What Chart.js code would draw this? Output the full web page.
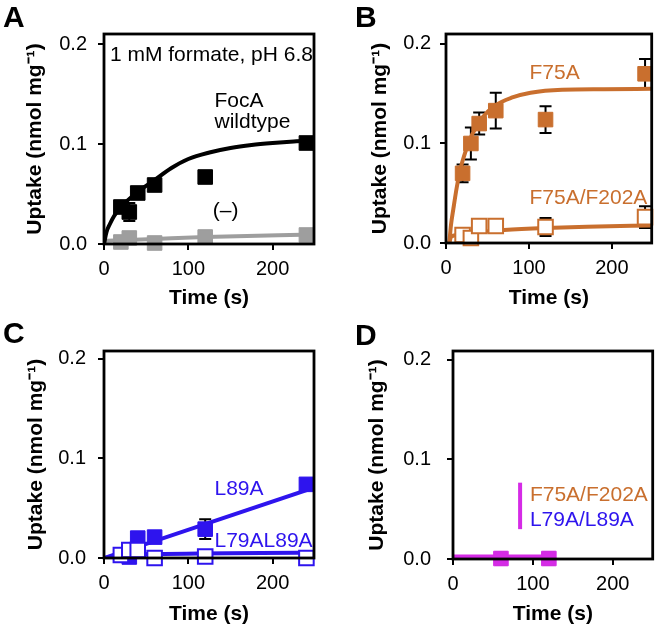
<!DOCTYPE html>
<html>
<head>
<meta charset="utf-8">
<script src="https://cdn.jsdelivr.net/npm/chart.js@4.4.1/dist/chart.umd.min.js"></script>
<style>
  body { margin: 0; background: #fff; }
  #wrap { position: relative; width: 664px; height: 629px; }
  #wrap canvas { position: absolute; }
</style>
</head>
<body>
<div id="wrap">
  <canvas id="panelA" width="332" height="310" style="left:0;top:0"></canvas>
  <canvas id="panelB" width="332" height="310" style="left:332px;top:0"></canvas>
  <canvas id="panelC" width="332" height="319" style="left:0;top:310px"></canvas>
  <canvas id="panelD" width="332" height="319" style="left:332px;top:310px"></canvas>
</div>
<script>
// ---- data ----
const sampleTimes = [20, 30, 40, 60, 120, 240];
const timeTicks = [0, 100, 200];
const uptakeTicks = [0, 0.1, 0.2];

// A: FocA wildtype and (-) control
const wildtypeUptake = [0.037, 0.032, 0.051, 0.059, 0.067, 0.101];
const wildtypeError = [0.004, 0.009, 0.005, 0.005, 0.006, 0.004];
const wildtypeFitTime = [0, 3, 7, 12, 20, 40, 60, 80, 100, 125, 150, 175, 200, 225, 250];
const wildtypeFitUptake = [0, 0.012, 0.020, 0.028, 0.037, 0.052, 0.064, 0.076, 0.085, 0.0915, 0.096, 0.099, 0.101, 0.1025, 0.1035];
const controlTime = [20, 30, 60, 120, 240];
const controlUptake = [0.002, 0.006, 0.001, 0.007, 0.009];
const controlError = [0.002, 0.004, 0.002, 0.003, 0.003];
const controlFitTime = [0, 60, 120, 250];
const controlFitUptake = [0.003, 0.005, 0.007, 0.0095];

// B: F75A and F75A/F202A
const f75aUptake = [0.070, 0.100, 0.120, 0.133, 0.124, 0.170];
const f75aError = [0.009, 0.016, 0.011, 0.018, 0.0135, 0.015];
const f75aFitTime = [4, 6, 9, 13, 17, 24, 32, 44, 59, 79, 102, 140, 190, 250];
const f75aFitUptake = [0, 0.018, 0.035, 0.056, 0.073, 0.093, 0.110, 0.126, 0.138, 0.146, 0.151, 0.154, 0.1545, 0.155];
const f202aUptake = [0.008, 0.005, 0.017, 0.017, 0.016, 0.026];
const f202aError = [0.003, 0.002, 0.003, 0.003, 0.009, 0.011];
const f202aFitTime = [4, 6, 12, 24, 40, 70, 120, 170, 250];
const f202aFitUptake = [0, 0.006, 0.008, 0.009, 0.011, 0.013, 0.015, 0.0163, 0.0177];

// C: L89A and L79A/L89A
const l89aTime = [30, 40, 60, 120, 240];
const l89aUptake = [0.001, 0.020, 0.021, 0.029, 0.074];
const l89aError = [0.002, 0.003, 0.003, 0.010, 0.004];
const l89aFitTime = [0, 250];
const l89aFitUptake = [0, 0.071];
const l79aUptake = [0.003, 0.008, 0.008, 0.0, 0.0015, 0.0];
const l79aError = [0.002, 0.002, 0.002, 0.002, 0.002, 0.002];
const l79aFitTime = [0, 20, 40, 60, 250];
const l79aFitUptake = [0, 0.002, 0.0035, 0.004, 0.0055];

// D: triple mutant
const tripleTime = [60, 120];
const tripleUptake = [0.0005, 0.0005];
const tripleError = [0.006, 0.006];
const tripleFitTime = [0, 125];
const tripleFitUptake = [0.0024, 0.0024];

// ---- styling ----
const ORANGE = '#C96F2E';
const BLUE = '#2E14EE';
const MAGENTA = '#D52BE6';
const GRAY = '#9E9E9E';
const FONT = '"Liberation Sans", Arial, Helvetica, sans-serif';

function pts(xs, ys) {
  return xs.map((x, i) => ({ x: x, y: ys[i] }));
}

function markers(xs, ys, errs, color, open) {
  return {
    data: pts(xs, ys),
    errors: errs,
    showLine: false,
    pointStyle: 'rect',
    pointRadius: 10.3,
    pointBorderWidth: open ? 2 : 1,
    pointBorderColor: color,
    pointBackgroundColor: open ? '#fff' : color,
    clip: false
  };
}

function fitLine(xs, ys, color) {
  return {
    data: pts(xs, ys),
    showLine: true,
    borderColor: color,
    borderWidth: 4,
    pointRadius: 0,
    cubicInterpolationMode: 'monotone',
    fill: false
  };
}

function decoPlugin(p) {
  return {
    id: 'deco',
    beforeDatasetsDraw(chart) {
      const ctx = chart.ctx, xs = chart.scales.x, ys = chart.scales.y;
      ctx.save();
      ctx.strokeStyle = '#000';
      ctx.lineWidth = 2;
      chart.data.datasets.forEach(ds => {
        if (!ds.errors) return;
        ds.data.forEach((d, j) => {
          const e = ds.errors[j];
          const x = xs.getPixelForValue(d.x);
          const y1 = ys.getPixelForValue(d.y + e);
          const y2 = ys.getPixelForValue(d.y - e);
          ctx.beginPath();
          ctx.moveTo(x, y1); ctx.lineTo(x, y2);
          ctx.moveTo(x - 6, y1); ctx.lineTo(x + 6, y1);
          ctx.moveTo(x - 6, y2); ctx.lineTo(x + 6, y2);
          ctx.stroke();
        });
      });
      ctx.restore();
    },
    afterDatasetsDraw(chart) {
      const ctx = chart.ctx, a = chart.chartArea, xs = chart.scales.x, ys = chart.scales.y;
      ctx.save();
      ctx.strokeStyle = '#000';
      ctx.lineWidth = 2.8;
      ctx.strokeRect(a.left, a.top, a.right - a.left, a.bottom - a.top);
      ctx.font = '21px ' + FONT;
      ctx.textBaseline = 'middle';
      ctx.textAlign = 'left';
      (p.texts || []).forEach(t => {
        ctx.fillStyle = t.color;
        ctx.fillText(t.text, xs.getPixelForValue(t.x), ys.getPixelForValue(t.y));
      });
      if (p.bar) {
        ctx.strokeStyle = p.bar.color;
        ctx.lineWidth = 4;
        const bx = xs.getPixelForValue(p.bar.x);
        ctx.beginPath();
        ctx.moveTo(bx, ys.getPixelForValue(p.bar.y1));
        ctx.lineTo(bx, ys.getPixelForValue(p.bar.y2));
        ctx.stroke();
      }
      ctx.restore();
    },
    afterDraw(chart) {
      const ctx = chart.ctx;
      ctx.save();
      ctx.font = 'bold 30px ' + FONT;
      ctx.fillStyle = '#000';
      ctx.textBaseline = 'alphabetic';
      ctx.fillText(p.letter, p.letterX, p.letterY);
      ctx.restore();
    }
  };
}

function makePanel(id, p) {
  const canvas = document.getElementById(id);
  const W = canvas.width, H = canvas.height;
  return new Chart(canvas, {
    type: 'scatter',
    data: { datasets: p.datasets },
    options: {
      responsive: false,
      animation: false,
      devicePixelRatio: 1,
      layout: { padding: { left: 0, top: p.plot.top, right: W - p.plot.right, bottom: 0 } },
      plugins: { legend: { display: false }, tooltip: { enabled: false } },
      scales: {
        x: {
          type: 'linear',
          min: 0,
          max: p.xMax,
          afterFit(s) { s.height = H - p.plot.bottom; },
          afterBuildTicks(s) { s.ticks = timeTicks.map(v => ({ value: v })); },
          ticks: { color: '#000', font: { size: 20, family: FONT }, padding: 7, callback: v => String(v) },
          grid: { display: true, drawOnChartArea: false, drawTicks: true, tickLength: 6, color: '#000', lineWidth: 2 },
          border: { display: false },
          title: { display: true, text: 'Time (s)', color: '#000', font: { size: 21, weight: 'bold', family: FONT }, padding: { top: 0, bottom: p.xTitlePad } }
        },
        y: {
          type: 'linear',
          min: 0,
          max: p.yMax,
          afterFit(s) { s.width = p.plot.left; },
          afterBuildTicks(s) { s.ticks = uptakeTicks.map(v => ({ value: v })); },
          ticks: { color: '#000', font: { size: 20, family: FONT }, padding: p.yTickPad, callback: v => v.toFixed(1) },
          grid: { display: true, drawOnChartArea: false, drawTicks: true, tickLength: 6, color: '#000', lineWidth: 2 },
          border: { display: false },
          title: { display: true, text: 'Uptake (nmol mg⁻¹)', color: '#000', font: { size: 21, weight: 'bold', family: FONT }, padding: { top: p.yTitlePad, bottom: 0 } }
        }
      }
    },
    plugins: [decoPlugin(p)]
  });
}

makePanel('panelA', {
  plot: { left: 104, top: 34, right: 314, bottom: 244 },
  xMax: 249, yMax: 0.21, xTitlePad: -1, yTitlePad: 23, yTickPad: 11,
  letter: 'A', letterX: 3, letterY: 27,
  texts: [
    { text: '1 mM formate, pH 6.8', x: 7, y: 0.189, color: '#000' },
    { text: 'FocA', x: 131, y: 0.143, color: '#000' },
    { text: 'wildtype', x: 131, y: 0.122, color: '#000' },
    { text: '(–)', x: 129, y: 0.033, color: '#000' }
  ],
  datasets: [
    markers(sampleTimes, wildtypeUptake, wildtypeError, '#000', false),
    markers(controlTime, controlUptake, controlError, GRAY, false),
    fitLine(wildtypeFitTime, wildtypeFitUptake, '#000'),
    fitLine(controlFitTime, controlFitUptake, GRAY)
  ]
});

makePanel('panelB', {
  plot: { left: 114, top: 34, right: 326, bottom: 243 },
  xMax: 248, yMax: 0.21, xTitlePad: -1, yTitlePad: 36, yTickPad: 9,
  letter: 'B', letterX: 23, letterY: 27,
  texts: [
    { text: 'F75A', x: 100.6, y: 0.171, color: ORANGE },
    { text: 'F75A/F202A', x: 100.6, y: 0.0455, color: ORANGE }
  ],
  datasets: [
    markers(sampleTimes, f75aUptake, f75aError, ORANGE, false),
    markers(sampleTimes, f202aUptake, f202aError, ORANGE, true),
    fitLine(f75aFitTime, f75aFitUptake, ORANGE),
    fitLine(f202aFitTime, f202aFitUptake, ORANGE)
  ]
});

makePanel('panelC', {
  plot: { left: 104, top: 41, right: 314, bottom: 248 },
  xMax: 249, yMax: 0.208, xTitlePad: 2, yTitlePad: 24, yTickPad: 12,
  letter: 'C', letterX: 3, letterY: 33,
  texts: [
    { text: 'L89A', x: 131, y: 0.069, color: BLUE },
    { text: 'L79AL89A', x: 131, y: 0.017, color: BLUE }
  ],
  datasets: [
    markers(sampleTimes, l79aUptake, l79aError, BLUE, true),
    markers(l89aTime, l89aUptake, l89aError, BLUE, false),
    fitLine(l89aFitTime, l89aFitUptake, BLUE),
    fitLine(l79aFitTime, l79aFitUptake, BLUE)
  ]
});

makePanel('panelD', {
  plot: { left: 121, top: 41, right: 325, bottom: 249 },
  xMax: 250, yMax: 0.209, xTitlePad: 2, yTitlePad: 33, yTickPad: 16,
  letter: 'D', letterX: 23, letterY: 35,
  texts: [
    { text: 'F75A/F202A', x: 96.3, y: 0.0643, color: ORANGE },
    { text: 'L79A/L89A', x: 96.3, y: 0.039, color: BLUE }
  ],
  bar: { x: 84, y1: 0.0767, y2: 0.030, color: MAGENTA },
  datasets: [
    markers(tripleTime, tripleUptake, tripleError, MAGENTA, false),
    fitLine(tripleFitTime, tripleFitUptake, MAGENTA)
  ]
});
</script>
</body>
</html>
